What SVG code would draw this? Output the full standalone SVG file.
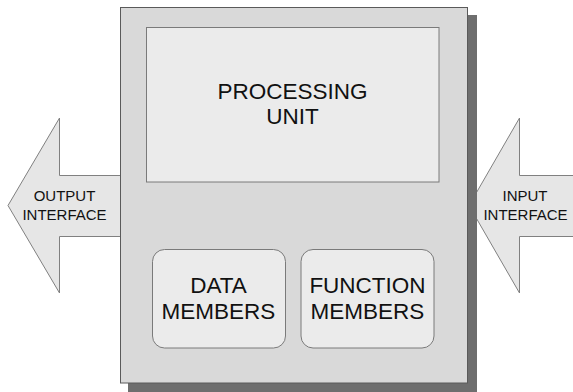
<svg xmlns="http://www.w3.org/2000/svg" width="573" height="392" viewBox="0 0 573 392">
  <style>
    .arrow { fill: #e6e6e6; stroke: #808080; stroke-width: 1; }
    .label { font-family: "Liberation Sans", Arial, sans-serif; fill: #111111; text-anchor: middle; }
    .big { font-size: 22.5px; }
    .small { font-size: 15px; }
    .panel { fill: #ebebeb; stroke: #7a7a7a; stroke-width: 1; }
  </style>
  <rect width="573" height="392" fill="#ffffff"/>

  <!-- interface arrows -->
  <g id="connectors">
    <g id="output-interface">
      <polygon class="arrow" points="120.5,175.5 59.5,175.5 59.5,118 8,205.5 59.5,293 59.5,236.5 120.5,236.5"/>
      <text class="label small" x="64.5" y="201">OUTPUT</text>
      <text class="label small" x="64.5" y="219.5">INTERFACE</text>
    </g>
    <g id="input-interface">
      <polygon class="arrow" points="574,175.5 519.5,175.5 519.5,118 469,205.5 519.5,293 519.5,236.5 574,236.5"/>
      <text class="label small" x="525" y="201">INPUT</text>
      <text class="label small" x="525.5" y="220">INTERFACE</text>
    </g>
  </g>

  <!-- object body with drop shadow -->
  <g id="object">
    <rect x="128" y="15" width="349" height="377" fill="#6e6e6e"/>
    <rect x="120.5" y="7.5" width="347" height="375.5" fill="#d9d9d9" stroke="#5a5a5a" stroke-width="1"/>
  </g>

  <g id="processing-unit">
    <rect class="panel" x="146.5" y="27.5" width="292.5" height="154.5"/>
    <text class="label big" x="292.5" y="98.5">PROCESSING</text>
    <text class="label big" x="292.5" y="123.5">UNIT</text>
  </g>

  <g id="data-members">
    <rect class="panel" x="152.5" y="249.5" width="133" height="98.5" rx="12"/>
    <text class="label big" x="218.5" y="292.5">DATA</text>
    <text class="label big" x="218.5" y="318.5">MEMBERS</text>
  </g>

  <g id="function-members">
    <rect class="panel" x="301" y="249.5" width="133" height="98.5" rx="12"/>
    <text class="label big" x="367.5" y="292.5">FUNCTION</text>
    <text class="label big" x="367.5" y="318.5">MEMBERS</text>
  </g>
</svg>
